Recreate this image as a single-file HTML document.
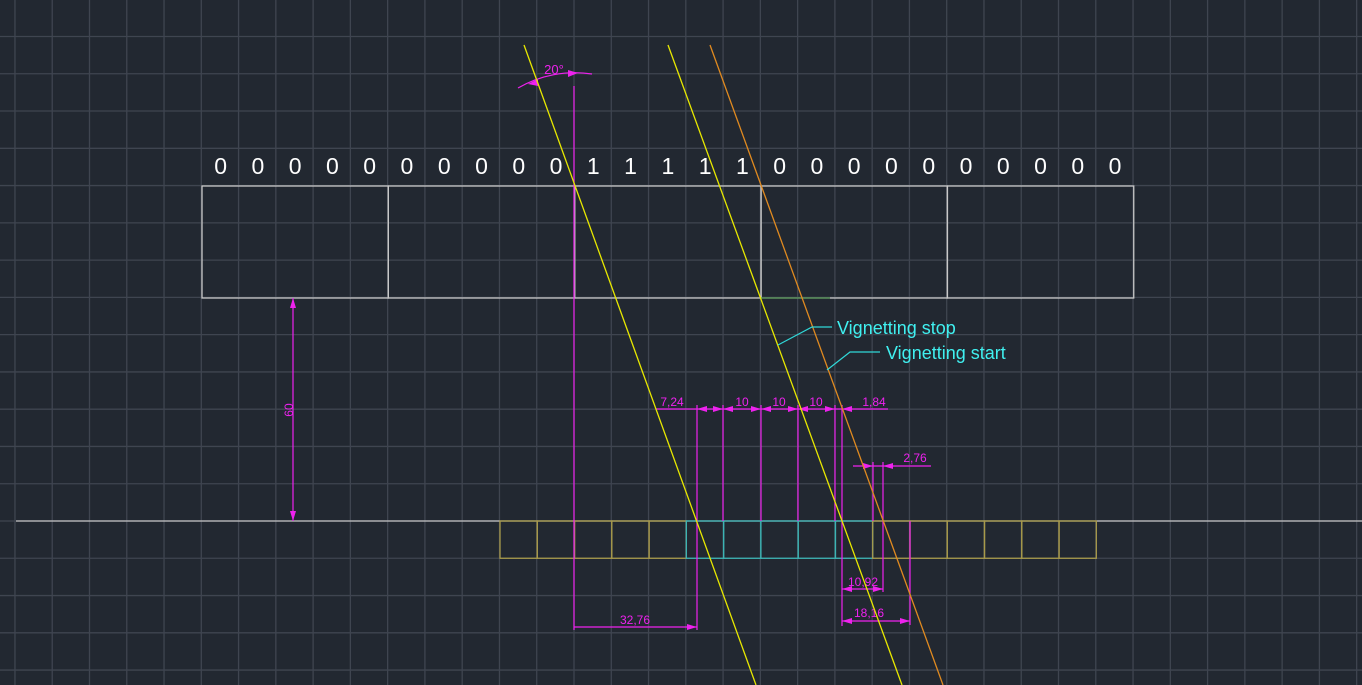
<!DOCTYPE html>
<html><head><meta charset="utf-8"><style>
html,body{margin:0;padding:0;background:#222831;}
svg{display:block;font-family:"Liberation Sans",sans-serif;}
</style></head><body>
<svg id="cad" width="1362" height="685" viewBox="0 0 1362 685">
<rect width="1362" height="685" fill="#222831"/>
<g id="grid" stroke="#3f4550" stroke-width="1.3"></g>
<line x1="16" y1="521" x2="1362" y2="521" stroke="#c8c8c8" stroke-width="1.3"/>
<g id="topboxes" fill="none" stroke="#c8c8c8" stroke-width="1.3"></g>
<g id="digits" fill="#ffffff" font-size="23" text-anchor="middle"></g>
<g id="cells" fill="none" stroke-width="1.3"></g>
<line x1="761" y1="298" x2="830" y2="298" stroke="#4a8a4a" stroke-width="1.3"/>
<g stroke="#ee22ee" stroke-width="1.2" fill="none">
 <line x1="574" y1="86" x2="574" y2="630"/>
 <path d="M518,88 A113,113 0 0 1 592,74"/>
 <line x1="293" y1="298" x2="293" y2="521"/>
 <line x1="574" y1="627" x2="697" y2="627"/>
 <line x1="697" y1="405" x2="697" y2="630"/>
 <line x1="723" y1="405" x2="723" y2="521"/>
 <line x1="761" y1="405" x2="761" y2="521"/>
 <line x1="798" y1="405" x2="798" y2="521"/>
 <line x1="835" y1="405" x2="835" y2="521"/>
 <line x1="842" y1="405" x2="842" y2="626"/>
 <line x1="656" y1="409" x2="888" y2="409"/>
 <line x1="873" y1="462" x2="873" y2="521"/>
 <line x1="883" y1="462" x2="883" y2="592"/>
 <line x1="853" y1="466" x2="931" y2="466"/>
 <line x1="910" y1="521" x2="910" y2="625"/>
 <line x1="842" y1="589" x2="883" y2="589"/>
 <line x1="842" y1="621" x2="910" y2="621"/>
</g>
<g fill="#ee22ee" font-size="12" text-anchor="middle">
 <text x="554" y="74" font-size="13">20°</text>
 <text x="290" y="410" transform="rotate(-90 290 410)" dominant-baseline="middle">60</text>
 <text x="635" y="624">32,76</text>
 <text x="672" y="406">7,24</text>
 <text x="742" y="406">10</text>
 <text x="779" y="406">10</text>
 <text x="816" y="406">10</text>
 <text x="874" y="406">1,84</text>
 <text x="915" y="462">2,76</text>
 <text x="863" y="586">10,92</text>
 <text x="869" y="617">18,16</text>
</g>
<g fill="#ee22ee">
 <polygon points="293,298 290,308 296,308"/><polygon points="293,521 290,511 296,511"/>
 <polygon points="697,627 687,624 687,630"/>
 <polygon points="697,409 707,406 707,412"/><polygon points="723,409 713,406 713,412"/>
 <polygon points="723,409 733,406 733,412"/><polygon points="761,409 751,406 751,412"/>
 <polygon points="761,409 771,406 771,412"/><polygon points="798,409 788,406 788,412"/>
 <polygon points="798,409 808,406 808,412"/><polygon points="835,409 825,406 825,412"/>
 <polygon points="842,409 852,406 852,412"/>
 <polygon points="873,466 863,463 863,469"/><polygon points="883,466 893,463 893,469"/>
 <polygon points="842,589 852,586 852,592"/><polygon points="883,589 873,586 873,592"/>
 <polygon points="842,621 852,618 852,624"/><polygon points="910,621 900,618 900,624"/>
 <polygon points="528,84 538,79 538,86"/><polygon points="578,73 568,70 568,77"/>
</g>
<line x1="524" y1="45" x2="756" y2="685" stroke="#e8e800" stroke-width="1.3"/>
<line x1="668" y1="45" x2="902" y2="685" stroke="#e8e800" stroke-width="1.3"/>
<line x1="710" y1="45" x2="943" y2="685" stroke="#e08a20" stroke-width="1.3"/>
<g stroke="#30d8d8" stroke-width="1.2" fill="none">
 <polyline points="778,345 812,327 832,327"/>
 <polyline points="827,370 850,352 880,352"/>
</g>
<text x="837" y="334" fill="#40f0f0" font-size="18">Vignetting stop</text>
<text x="886" y="359" fill="#40f0f0" font-size="18">Vignetting start</text>
</svg>
<script>
const bits=[0,0,0,0,0,0,0,0,0,0,1,1,1,1,1,0,0,0,0,0,0,0,0,0,0];
const cellColors=["o","o","o","o","o","c","c","c","c","c","o","o","o","o","o","o"];
const NS="http://www.w3.org/2000/svg";
const C=37.27;
function mk(t,a,p){const e=document.createElementNS(NS,t);for(const k in a)e.setAttribute(k,a[k]);p.appendChild(e);return e;}
const g=document.getElementById('grid');
for(let x=574-C*15;x<1362;x+=C){const l=mk('line',{x1:x,y1:0,x2:x,y2:685},g);

}
for(let y=521-C*14;y<685;y+=C){const l=mk('line',{x1:0,y1:y,x2:1362,y2:y},g);

}
const tb=document.getElementById('topboxes');
for(let i=0;i<5;i++){const r=mk('rect',{x:202+i*5*C,y:186,width:5*C,height:112},tb);

}
const dg=document.getElementById('digits');
bits.forEach((b,i)=>{const t=mk('text',{x:220.6+i*C,y:174},dg);t.textContent=b;

});
const cg=document.getElementById('cells');
cellColors.forEach((c,i)=>{const r=mk('rect',{x:500+i*C,y:521,width:C,height:C,stroke:c==="c"?"#3cb4b4":"#a89a4a"},cg);

});
</script>
</body></html>
